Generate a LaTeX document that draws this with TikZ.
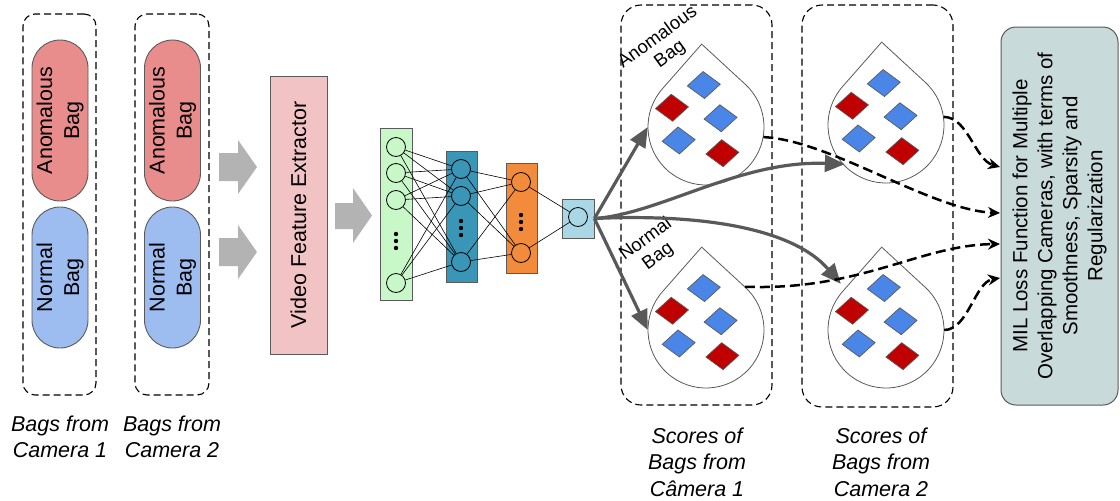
\documentclass[tikz,border=0pt]{standalone}
\usepackage{fontspec}
\setmainfont{Liberation Sans}
\usetikzlibrary{arrows.meta,calc}

\definecolor{anomfill}{HTML}{E88C8C}
\definecolor{normfill}{HTML}{9DBCF0}
\definecolor{featfill}{HTML}{F2C3C5}
\definecolor{blockgray}{HTML}{B3B3B3}
\definecolor{edgegray}{HTML}{5A5A5A}
\definecolor{greenlayer}{HTML}{C8F7C8}
\definecolor{teallayer}{HTML}{3A96B6}
\definecolor{orangelayer}{HTML}{F28C3C}
\definecolor{outlayer}{HTML}{A9D7E5}
\definecolor{gemblue}{HTML}{4A86E8}
\definecolor{gemred}{HTML}{C00000}
\definecolor{milfill}{HTML}{C9DADB}
\definecolor{flowgray}{HTML}{595959}

\tikzset{
  textbig/.style={font=\fontsize{21.5}{27}\selectfont},
  groupbox/.style={draw, dashed, dash pattern=on 7pt off 4pt, line width=1.1pt, rounded corners=12pt},
  scorebox/.style={draw, dashed, dash pattern=on 7pt off 4pt, line width=1.1pt, rounded corners=20pt},
  pill/.style={draw=edgegray, line width=0.9pt, rounded corners=28pt, minimum height=56pt, inner sep=0pt, align=center, rotate=90, textbig},
  layerbox/.style={draw=edgegray, line width=0.8pt, inner sep=0pt},
  neuron/.style={circle, draw=black, line width=0.8pt, minimum size=19pt, inner sep=0pt},
  wire/.style={line width=0.6pt},
  blockarrow/.style={fill=blockgray},
  flow/.style={draw=flowgray, line width=3.2pt, -{Triangle[length=20pt,width=17pt]}},
  lossflow/.style={line width=2.5pt, dash pattern=on 10pt off 5pt, -{Stealth[length=12pt,width=11pt]}},
  dropline/.style={draw=edgegray, line width=0.8pt, fill=white},
  gem/.style={draw=edgegray, line width=0.7pt},
  bagbody/.style={circle, minimum size=116pt, inner sep=0pt},
  caption/.style={font=\itshape\fontsize{21.5}{26.5}\selectfont, align=center},
  droplabel/.style={font=\fontsize{18.5}{21}\selectfont, align=center, rotate=36},
}

% one diamond-shaped score marker
\newcommand{\gemat}[3]{\filldraw[gem, fill=#1] (#2,#3) +(-16.5,0) -- +(0,-13.5) -- +(16.5,0) -- +(0,13.5) -- cycle;}
% a teardrop-shaped bag with five scores, drawn around a named body node
\newcommand{\bagdrop}[1]{%
  \begin{scope}[shift={(#1.center)}, rotate=3]
    \draw[dropline] (0,-83) -- (225:58) arc[start angle=225, end angle=-45, radius=58] -- cycle;
    \gemat{gemblue}{0}{-42}
    \gemat{gemred}{-33}{-21}
    \gemat{gemblue}{15}{-8}
    \gemat{gemblue}{-28}{12}
    \gemat{gemred}{15}{27}
  \end{scope}}
% a three-dot vertical ellipsis
\newcommand{\vdotsat}[2]{\foreach \k in {-7,0,7} {\fill (#1,#2+\k) circle (2.2pt);}}

\begin{document}
\begin{tikzpicture}[x=1pt,y=-1pt]
\useasboundingbox (0,0) rectangle (1120,501);

% ---- input bags per camera ----
\node[groupbox, minimum width=73pt, minimum height=381pt] (cam1) at (59.5,204.5) {};
\node[groupbox, minimum width=74pt, minimum height=381pt] (cam2) at (172,204.5) {};

\node[pill, fill=anomfill, minimum width=161pt] (a1) at (60,120.5) {Anomalous\\Bag};
\node[pill, fill=normfill, minimum width=141pt] (n1) at (60,277.5) {Normal\\Bag};
\node[pill, fill=anomfill, minimum width=161pt] (a2) at (172.5,120.5) {Anomalous\\Bag};
\node[pill, fill=normfill, minimum width=141pt] (n2) at (172.5,277.5) {Normal\\Bag};

\node[caption] (cap1) at (60,437) {Bags from\\Camera 1};
\node[caption] (cap2) at (172,437) {Bags from\\Camera 2};

% ---- block arrows into and out of the feature extractor ----
\fill[blockarrow] (219,153) -- (238,153) -- (238,140) -- (257,167) -- (238,194) -- (238,181) -- (219,181) -- cycle;
\fill[blockarrow] (219,238) -- (238,238) -- (238,225) -- (257,252) -- (238,279) -- (238,266) -- (219,266) -- cycle;
\fill[blockarrow] (335,203) -- (353,203) -- (353,188) -- (372,215.5) -- (353,243) -- (353,229) -- (335,229) -- cycle;

\node[draw=edgegray, line width=0.9pt, fill=featfill, minimum width=278pt, minimum height=57pt,
      rotate=90, textbig] (fe) at (298.5,215) {Video Feature Extractor};

% ---- fully connected network ----
\node[layerbox, fill=greenlayer, minimum width=32pt, minimum height=172pt] (L1) at (396,214) {};
\node[layerbox, fill=teallayer, minimum width=31pt, minimum height=131pt] (L2) at (461.5,216.5) {};
\node[layerbox, fill=orangelayer, minimum width=31pt, minimum height=110pt] (L3) at (521.5,218) {};
\node[layerbox, fill=outlayer, minimum width=32pt, minimum height=39pt] (L4) at (578,218.5) {};

\node[neuron] (g1) at (396,147) {};
\node[neuron] (g2) at (396,173) {};
\node[neuron] (g3) at (396,200) {};
\node[neuron] (g4) at (396,283) {};
\vdotsat{396}{241}

\node[neuron] (t1) at (461,169) {};
\node[neuron] (t2) at (461,196) {};
\node[neuron] (t3) at (461,262) {};
\vdotsat{461}{228}

\node[neuron] (o1) at (521,182) {};
\node[neuron] (o2) at (521,253) {};
\vdotsat{521}{222}

\node[neuron] (y) at (578,217) {};

\foreach \a in {g1,g2,g3,g4} \foreach \b in {t1,t2,t3} \draw[wire] (\a) -- (\b);
\foreach \a in {t1,t2,t3} \foreach \b in {o1,o2} \draw[wire] (\a) -- (\b);
\foreach \a in {o1,o2} \draw[wire] (\a) -- (y);

% ---- bag scores per camera ----
\node[scorebox, minimum width=151pt, minimum height=400pt] (sc1) at (696.5,205) {};
\node[scorebox, minimum width=151pt, minimum height=402pt] (sc2) at (877.5,206) {};

\node[bagbody] (d1) at (706,127) {};
\node[bagbody] (d2) at (706,330) {};
\node[bagbody] (d3) at (886,125) {};
\node[bagbody] (d4) at (886,330) {};
\bagdrop{d1}
\bagdrop{d2}
\bagdrop{d3}
\bagdrop{d4}

\node[droplabel] (lab1) at (664,46) {Anomalous\\Bag};
\node[droplabel] (lab2) at (652,248) {Normal\\Bag};

\node[caption] (cap3) at (697,462) {Scores of\\Bags from\\Câmera 1};
\node[caption] (cap4) at (881,462) {Scores of\\Bags from\\Camera 2};

% ---- loss function ----
\node[draw=edgegray, line width=1pt, fill=milfill, rounded corners=15pt, minimum width=378pt, minimum height=117pt,
      rotate=90, align=center, font=\fontsize{20.5}{25}\selectfont] (mil) at (1059.5,216)
  {MIL Loss Function for Multiple\\Overlapping Cameras, with terms of\\Smoothness, Sparsity and\\Regularization};

% ---- score flows ----
\draw[flow] (L4.east) -- (d1.west);
\draw[flow] (L4.east) -- (d2.west);
\draw[flow] (L4.east) .. controls (660,214) and (740,160) .. ($(d3.south west)+(0,-2)$);
\draw[flow] (L4.east) .. controls (690,214) and (790,225) .. ($(d4.north west)+(-4,-5)$);

\coordinate (in1) at (1000,167);
\coordinate (in2) at (1000,213);
\coordinate (in3) at (1000,244);
\coordinate (in4) at (1000,278);

\draw[lossflow] (d1.-10) .. controls (830,140) and (930,210) .. (in2);
\draw[lossflow] (d3.8) .. controls (968,117) and (975,160) .. (in1);
\draw[lossflow] (d2.48) .. controls (860,291) and (920,245) .. (in3);
\draw[lossflow] (d4.east) .. controls (968,330) and (975,282) .. (in4);
\end{tikzpicture}
\end{document}
